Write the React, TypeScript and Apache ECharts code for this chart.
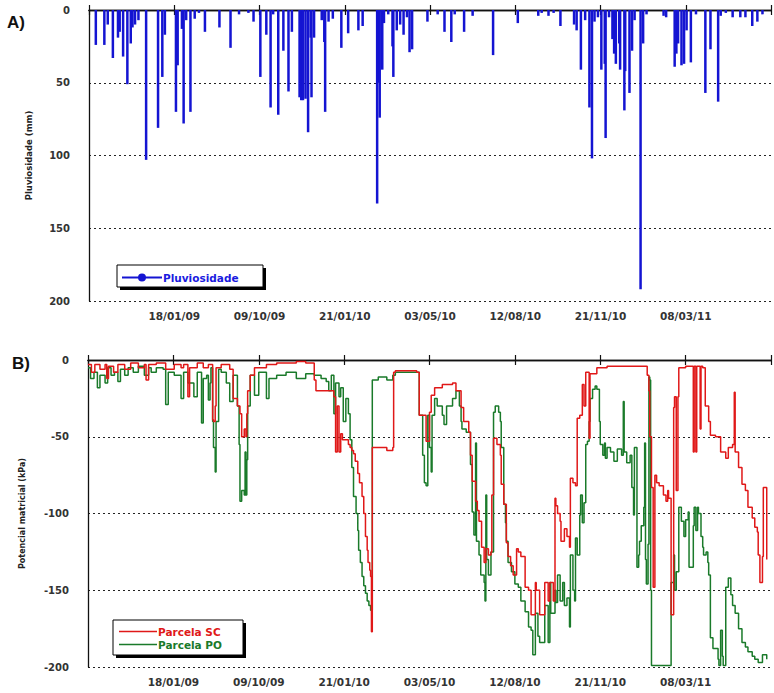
import React, { useEffect, useRef } from "react";
import * as echarts from "echarts";

// x unit: days-like index; 100 units between consecutive date labels
const tickLabels = ["", "18/01/09", "09/10/09", "21/01/10", "03/05/10", "12/08/10", "21/11/10", "08/03/11", ""];

const rainDay = [8, 18, 22, 28, 34, 36, 40, 45, 49, 51, 54, 58, 67, 81, 86, 89, 102, 104, 109, 111, 114, 119, 124, 129, 136, 153, 166, 176, 187, 193, 201, 208, 213, 216, 222, 228, 234, 238, 247, 249, 251, 254, 257, 260, 261, 264, 273, 276, 277, 281, 286, 296, 304, 316, 321, 338, 340, 341, 344, 346, 351, 356, 357, 361, 365, 369, 373, 376, 379, 397, 409, 417, 425, 429, 440, 450, 474, 503, 527, 531, 539, 545, 553, 569, 572, 577, 582, 587, 590, 593, 597, 601, 605, 606, 610, 614, 616, 618, 622, 623, 628, 629, 634, 637, 640, 647, 650, 654, 674, 677, 687, 689, 691, 695, 698, 701, 706, 712, 723, 729, 738, 741, 747, 755, 764, 770, 778, 784, 790];
const rainMm = [24, 24, 10, 33, 19, 15, 32, 51, 23, 12, 10, 7, 103, 81, 46, 17, 70, 38, 13, 78, 7, 70, 6, 2, 15, 12, 26, 3, 2, 8, 46, 17, 67, 3, 72, 28, 56, 15, 60, 62, 62, 61, 84, 19, 60, 19, 7, 22, 70, 8, 6, 26, 16, 14, 11, 133, 50, 74, 41, 9, 3, 25, 46, 14, 10, 17, 5, 29, 27, 8, 3, 15, 22, 3, 15, 4, 31, 9, 4, 2, 4, 2, 11, 10, 14, 41, 7, 67, 102, 8, 5, 41, 37, 88, 5, 20, 30, 37, 23, 41, 69, 42, 57, 28, 7, 192, 23, 3, 4, 5, 39, 30, 23, 38, 37, 14, 36, 3, 57, 27, 63, 4, 2, 5, 5, 5, 11, 8, 3];

const scDay = [0, 4, 8, 14, 20, 22, 24, 30, 35, 43, 50, 59, 66, 68, 71, 80, 91, 101, 109, 112, 117, 119, 128, 135, 141, 144, 146, 147, 149, 150, 156, 166, 170, 175, 178, 180, 183, 185, 186, 187, 190, 195, 209, 221, 244, 255, 264, 265, 267, 279, 288, 290, 292, 294, 296, 298, 305, 307, 309, 311, 313, 316, 318, 321, 323, 325, 327, 328, 330, 331, 332, 333, 340, 350, 357, 358, 360, 385, 386, 388, 394, 396, 400, 402, 406, 415, 427, 431, 437, 440, 446, 448, 450, 454, 456, 458, 461, 464, 466, 469, 472, 473, 475, 479, 483, 484, 487, 490, 492, 495, 498, 502, 504, 507, 512, 516, 519, 524, 525, 529, 535, 539, 541, 545, 547, 548, 550, 553, 554, 558, 561, 564, 565, 568, 571, 573, 576, 577, 579, 581, 583, 585, 587, 588, 591, 594, 596, 608, 654, 655, 657, 658, 660, 662, 664, 666, 669, 674, 677, 679, 680, 683, 686, 687, 689, 691, 692, 700, 708, 709, 710, 711, 712, 713, 716, 717, 718, 720, 723, 727, 729, 735, 741, 747, 750, 755, 757, 758, 762, 766, 770, 773, 778, 781, 784, 785, 787, 790, 791, 795];
const scKpa = [-3, -8, -3, -6, -3, -12, -4, -8, -3, -6, -2, -5, -3, -13, -3, -2, -6, -3, -5, -3, -24, -5, -2, -5, -3, -3, -39, -40, -30, -5, -3, -6, -25, -30, -35, -50, -45, -50, -35, -20, -10, -5, -3, -2, -1, -2, -2, -13, -20, -20, -24, -60, -30, -60, -48, -52, -55, -57, -59, -61, -66, -74, -80, -89, -100, -115, -124, -132, -137, -141, -177, -57, -57, -59, -57, -8, -7, -8, -8, -36, -36, -53, -34, -23, -18, -16, -15, -20, -31, -40, -47, -62, -79, -92, -98, -105, -122, -132, -123, -127, -125, -88, -51, -55, -62, -81, -94, -119, -128, -134, -140, -123, -125, -128, -148, -150, -166, -145, -150, -166, -145, -157, -145, -157, -90, -95, -100, -105, -118, -110, -115, -122, -77, -80, -82, -38, -36, -36, -16, -30, -8, -8, -51, -9, -9, -9, -5, -4, -4, -10, -20, -50, -83, -148, -75, -80, -82, -88, -92, -85, -90, -166, -31, -24, -85, -24, -5, -4, -4, -60, -4, -4, -60, -4, -4, -45, -4, -5, -30, -40, -49, -50, -60, -64, -57, -55, -21, -60, -70, -81, -85, -96, -103, -109, -112, -127, -145, -128, -83, -130];

const poDay = [0, 3, 7, 11, 14, 20, 23, 27, 31, 35, 38, 43, 47, 53, 59, 66, 71, 74, 80, 88, 91, 94, 101, 109, 112, 117, 124, 128, 133, 135, 139, 141, 143, 144, 146, 147, 149, 150, 153, 156, 162, 166, 170, 175, 177, 178, 180, 183, 184, 185, 186, 187, 190, 195, 200, 209, 212, 221, 232, 244, 255, 265, 273, 279, 282, 285, 288, 290, 294, 296, 299, 302, 305, 307, 309, 311, 314, 316, 317, 319, 321, 323, 325, 327, 329, 331, 332, 333, 340, 350, 357, 360, 385, 386, 388, 392, 394, 396, 398, 400, 402, 403, 406, 409, 415, 417, 420, 427, 431, 435, 437, 438, 443, 446, 448, 450, 452, 454, 455, 458, 460, 464, 465, 466, 467, 469, 472, 473, 475, 477, 481, 483, 484, 487, 489, 490, 492, 496, 500, 504, 507, 512, 516, 519, 521, 524, 527, 529, 535, 539, 541, 542, 547, 548, 550, 553, 556, 558, 561, 564, 565, 568, 570, 571, 573, 576, 577, 579, 581, 583, 585, 587, 588, 591, 594, 596, 599, 600, 603, 605, 606, 608, 612, 616, 620, 625, 627, 628, 631, 635, 637, 639, 640, 643, 645, 646, 648, 651, 652, 653, 654, 656, 657, 658, 659, 660, 670, 680, 683, 686, 687, 689, 692, 695, 698, 700, 703, 704, 709, 710, 712, 714, 715, 718, 720, 721, 724, 726, 727, 729, 732, 735, 738, 739, 741, 743, 744, 747, 750, 753, 755, 758, 762, 766, 770, 773, 778, 781, 785, 790, 795];
const poKpa = [-5, -12, -8, -18, -10, -15, -5, -10, -8, -14, -6, -10, -5, -8, -4, -10, -5, -8, -5, -6, -29, -8, -10, -25, -8, -15, -24, -8, -41, -12, -10, -26, -15, -5, -40, -57, -73, -40, -6, -8, -15, -27, -10, -30, -55, -92, -85, -88, -60, -88, -65, -30, -10, -23, -8, -25, -12, -10, -8, -12, -9, -10, -12, -14, -20, -10, -35, -15, -24, -18, -40, -25, -35, -52, -70, -89, -100, -111, -124, -132, -141, -147, -152, -157, -160, -163, -163, -13, -11, -13, -10, -8, -8, -8, -36, -62, -80, -82, -36, -57, -73, -36, -25, -30, -36, -42, -30, -25, -20, -30, -40, -45, -47, -47, -68, -99, -114, -54, -118, -127, -140, -145, -157, -88, -130, -140, -125, -125, -34, -30, -34, -40, -57, -94, -106, -118, -132, -138, -146, -148, -157, -164, -174, -176, -192, -165, -180, -184, -160, -184, -145, -165, -150, -158, -140, -157, -145, -160, -155, -174, -127, -150, -157, -116, -127, -101, -88, -106, -93, -55, -53, -40, -25, -19, -17, -19, -40, -55, -62, -54, -64, -57, -60, -66, -58, -62, -27, -60, -67, -62, -83, -101, -57, -135, -127, -118, -108, -96, -54, -130, -146, -120, -11, -13, -150, -199, -199, -199, -145, -127, -150, -138, -96, -105, -115, -104, -99, -135, -108, -96, -111, -96, -100, -115, -122, -127, -125, -132, -140, -181, -188, -188, -195, -199, -176, -193, -199, -148, -142, -153, -160, -165, -175, -184, -187, -190, -193, -195, -197, -192, -195];

const zip = (a: number[], b: number[]) => a.map((v, i) => [v, b[i]]);

const FONT = "DejaVu Sans";
const AXIS_COLOR = "#111";
const BLUE = "#1414d2";
const RED = "#e01818";
const GREEN = "#1a7a2a";

function xAxes(gridIndex: number) {
  const common = {
    type: "value" as const,
    gridIndex,
    min: 0,
    max: 800,
    interval: 100,
    axisLine: { show: true, lineStyle: { color: AXIS_COLOR, width: 1.3 } },
    splitLine: { show: false },
  };
  return [
    {
      ...common,
      position: "bottom" as const,
      axisTick: { show: true, inside: true, length: 5, lineStyle: { color: AXIS_COLOR, width: 1.2 } },
      axisLabel: {
        margin: 9,
        color: "#333",
        fontFamily: FONT,
        fontWeight: "bold" as const,
        fontSize: 10.5,
        formatter: (v: number) => tickLabels[Math.round(v / 100)] ?? "",
      },
    },
    {
      ...common,
      position: "top" as const,
      axisTick: { show: true, inside: true, length: 5, lineStyle: { color: AXIS_COLOR, width: 1.2 } },
      axisLabel: { show: false },
    },
  ];
}

const splitStyle = { show: true, lineStyle: { color: "#222", type: [2, 3] as number[], width: 1.2 } };
const yLabelStyle = { color: "#333", fontFamily: FONT, fontWeight: "bold" as const, fontSize: 10, margin: 19 };

const rainIcon = "path://M0,3H40V5H0Z M16,4A4,4 0 1,1 24,4A4,4 0 1,1 16,4Z";
const lineIcon = "path://M0,0H38V1.6H0Z";

export default function App() {
  const ref = useRef<HTMLDivElement>(null);
  useEffect(() => {
    if (!ref.current) return;
    const chart = echarts.init(ref.current, undefined, { renderer: "svg" });
    const option: any = {
      animation: false,
      backgroundColor: "#ffffff",
      grid: [
        { left: 89, top: 10, width: 692, height: 291 },
        { left: 88, top: 360, width: 692, height: 307 },
      ],
      xAxis: [...xAxes(0), ...xAxes(1)],
      yAxis: [
        {
          type: "value",
          gridIndex: 0,
          inverse: true,
          min: 0,
          max: 200,
          interval: 50,
          axisLine: { show: true, lineStyle: { color: AXIS_COLOR, width: 1.3 } },
          axisTick: { show: false },
          axisLabel: yLabelStyle,
          splitLine: splitStyle,
          name: "Pluviosidade (mm)",
          nameLocation: "middle",
          nameGap: 56,
          nameTextStyle: { color: "#222", fontFamily: FONT, fontWeight: "bold", fontSize: 8.5 },
        },
        {
          type: "value",
          gridIndex: 1,
          min: -200,
          max: 0,
          interval: 50,
          axisLine: { show: true, lineStyle: { color: AXIS_COLOR, width: 1.3 } },
          axisTick: { show: false },
          axisLabel: yLabelStyle,
          splitLine: splitStyle,
          name: "Potencial matricial (kPa)",
          nameLocation: "middle",
          nameGap: 62,
          nameTextStyle: { color: "#222", fontFamily: FONT, fontWeight: "bold", fontSize: 8 },
        },
      ],
      legend: [
        {
          z: 10,
          left: 122,
          top: 272,
          padding: 0,
          itemWidth: 40,
          itemHeight: 8,
          itemGap: 4,
          data: [
            {
              name: "Pluviosidade",
              icon: rainIcon,
              itemStyle: { color: BLUE, borderWidth: 0 },
              textStyle: { color: "#1a1ae0" },
            },
          ],
          textStyle: { fontFamily: FONT, fontWeight: "bold", fontSize: 10.5, padding: [0, 0, 0, -4] },
        },
        {
          z: 10,
          left: 119,
          top: 626,
          padding: 0,
          orient: "vertical",
          itemWidth: 38,
          itemHeight: 10,
          itemGap: 2,
          data: [
            { name: "Parcela SC", icon: lineIcon, itemStyle: { color: RED }, textStyle: { color: RED } },
            { name: "Parcela PO", icon: lineIcon, itemStyle: { color: GREEN }, textStyle: { color: GREEN } },
          ],
          textStyle: { fontFamily: FONT, fontWeight: "bold", fontSize: 10.5, padding: [0, 0, 0, -4] },
        },
      ],
      graphic: [
        { type: "rect", z: 5, shape: { x: 120, y: 268, width: 146, height: 22 }, style: { fill: "#000" } },
        { type: "rect", z: 6, shape: { x: 117, y: 265, width: 146, height: 22 }, style: { fill: "#fff", stroke: "#000", lineWidth: 1 } },
        { type: "rect", z: 5, shape: { x: 116, y: 623, width: 130, height: 35 }, style: { fill: "#000" } },
        { type: "rect", z: 6, shape: { x: 113, y: 620, width: 130, height: 35 }, style: { fill: "#fff", stroke: "#000", lineWidth: 1 } },
        { type: "text", z: 6, x: 7, y: 14, style: { text: "A)", font: "bold 17px 'Liberation Sans', Arial", fill: "#111" } },
        { type: "text", z: 6, x: 12, y: 355, style: { text: "B)", font: "bold 17px 'Liberation Sans', Arial", fill: "#111" } },
      ],
      series: [
        {
          name: "Pluviosidade",
          type: "bar",
          xAxisIndex: 0,
          yAxisIndex: 0,
          barWidth: 2.5,
          itemStyle: { color: BLUE },
          data: zip(rainDay, rainMm),
        },
        {
          name: "Parcela SC",
          type: "line",
          xAxisIndex: 2,
          yAxisIndex: 1,
          symbol: "none",
          step: "end",
          lineStyle: { color: RED, width: 1.5 },
          itemStyle: { color: RED },
          z: 3,
          data: zip(scDay, scKpa),
        },
        {
          name: "Parcela PO",
          type: "line",
          xAxisIndex: 2,
          yAxisIndex: 1,
          symbol: "none",
          step: "end",
          lineStyle: { color: GREEN, width: 1.5 },
          itemStyle: { color: GREEN },
          z: 2,
          data: zip(poDay, poKpa),
        },
      ],
    };
    chart.setOption(option);
    return () => chart.dispose();
  }, []);
  return <div ref={ref} style={{ position: "absolute", left: 0, top: 0, width: 774, height: 693 }} />;
}
